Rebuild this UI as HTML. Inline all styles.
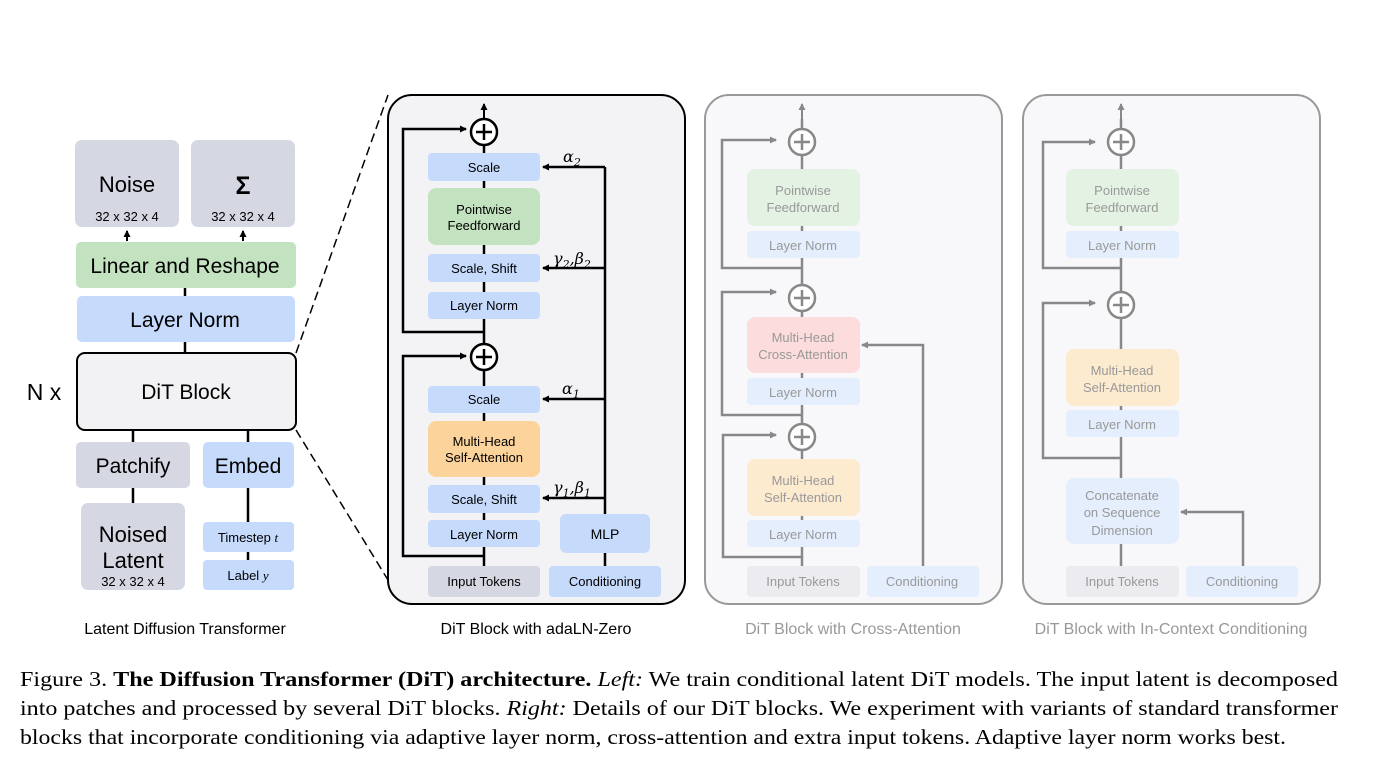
<!DOCTYPE html>
<html><head><meta charset="utf-8"><style>
html,body{margin:0;padding:0;background:#fff;}
svg{display:block;}
.s{font-family:"Liberation Sans",sans-serif;}
.m{font-family:"Liberation Serif",serif;}
</style></head><body>
<svg width="1388" height="764" viewBox="0 0 1388 764" xmlns="http://www.w3.org/2000/svg">
<defs>
<marker id="ab" markerWidth="8" markerHeight="8" refX="6" refY="4" orient="auto" markerUnits="userSpaceOnUse"><path d="M0,0.5 L7,4 L0,7.5 Z" fill="#000"/></marker>
<marker id="ag" markerWidth="8" markerHeight="8" refX="6" refY="4" orient="auto" markerUnits="userSpaceOnUse"><path d="M0,0.5 L7,4 L0,7.5 Z" fill="#888"/></marker>
</defs>

<!-- LEFT -->
<g class="s" text-anchor="middle">
<line x1="185" y1="288" x2="185" y2="353" stroke="#000" stroke-width="2.5"/>
<line x1="133" y1="430" x2="133" y2="503" stroke="#000" stroke-width="2.5"/>
<line x1="248" y1="430" x2="248" y2="560" stroke="#000" stroke-width="2.5"/>
<line x1="127" y1="241" x2="127" y2="231" stroke="#000" stroke-width="2" marker-end="url(#ab)"/>
<line x1="243" y1="241" x2="243" y2="231" stroke="#000" stroke-width="2" marker-end="url(#ab)"/>
<rect x="75" y="140" width="104" height="87" rx="7" fill="#d5d7e2"/>
<rect x="191" y="140" width="104" height="87" rx="7" fill="#d5d7e2"/>
<text x="127" y="192" font-size="22">Noise</text>
<text x="127" y="221" font-size="13">32 x 32 x 4</text>
<text x="243" y="194" font-size="25" font-weight="bold">Σ</text>
<text x="243" y="221" font-size="13">32 x 32 x 4</text>
<rect x="76" y="242" width="220" height="46" rx="5" fill="#c3e3c0"/>
<text x="185" y="273" font-size="21">Linear and Reshape</text>
<rect x="77" y="296" width="218" height="46" rx="5" fill="#c6dafc"/>
<text x="185" y="327" font-size="21">Layer Norm</text>
<rect x="77" y="353" width="219" height="77" rx="8" fill="#f2f2f4" stroke="#000" stroke-width="2"/>
<text x="186" y="399" font-size="21">DiT Block</text>
<text x="44" y="400" font-size="23">N x</text>
<rect x="76" y="442" width="114" height="46" rx="5" fill="#d5d7e2"/>
<text x="133" y="473" font-size="21">Patchify</text>
<rect x="203" y="442" width="91" height="46" rx="5" fill="#c6dafc"/>
<text x="248" y="473" font-size="21">Embed</text>
<rect x="81" y="503" width="104" height="87" rx="7" fill="#d5d7e2"/>
<text x="133" y="542" font-size="22">Noised</text>
<text x="133" y="568" font-size="22">Latent</text>
<text x="133" y="586" font-size="13">32 x 32 x 4</text>
<rect x="203" y="522" width="91" height="30" rx="4" fill="#c6dafc"/>
<text x="248" y="542" font-size="13">Timestep <tspan class="m" font-style="italic">t</tspan></text>
<rect x="203" y="560" width="91" height="30" rx="4" fill="#c6dafc"/>
<text x="248" y="580" font-size="13">Label <tspan class="m" font-style="italic">y</tspan></text>
<text x="185" y="634" font-size="16">Latent Diffusion Transformer</text>
</g>
<line x1="296" y1="353" x2="388" y2="95" stroke="#000" stroke-width="1.5" stroke-dasharray="9,5"/>
<line x1="296" y1="430" x2="388" y2="580" stroke="#000" stroke-width="1.5" stroke-dasharray="9,5"/>

<!-- MIDDLE PANEL -->
<g class="s" text-anchor="middle" font-size="13">
<rect x="388" y="95" width="297" height="509" rx="24" fill="#f3f3f5" stroke="#000" stroke-width="2"/>
<line x1="484" y1="566" x2="484" y2="119" stroke="#000" stroke-width="2.5"/>
<line x1="484" y1="119" x2="484" y2="104" stroke="#000" stroke-width="2" marker-end="url(#ab)"/>
<polyline points="484,332 403,332 403,129 466,129" fill="none" stroke="#000" stroke-width="2.5" marker-end="url(#ab)"/>
<polyline points="484,556 403,556 403,356 466,356" fill="none" stroke="#000" stroke-width="2.5" marker-end="url(#ab)"/>
<line x1="605" y1="566" x2="605" y2="167" stroke="#000" stroke-width="2.5"/>
<polyline points="605,167 543,167" fill="none" stroke="#000" stroke-width="2.5" marker-end="url(#ab)"/>
<polyline points="605,268 543,268" fill="none" stroke="#000" stroke-width="2.5" marker-end="url(#ab)"/>
<polyline points="605,399 543,399" fill="none" stroke="#000" stroke-width="2.5" marker-end="url(#ab)"/>
<polyline points="605,498 543,498" fill="none" stroke="#000" stroke-width="2.5" marker-end="url(#ab)"/>
<circle cx="484" cy="132" r="13" fill="#fff" stroke="#000" stroke-width="2.5"/>
<path d="M476,132 H492 M484,124 V140" stroke="#000" stroke-width="2.5"/>
<circle cx="484" cy="357" r="13" fill="#fff" stroke="#000" stroke-width="2.5"/>
<path d="M476,357 H492 M484,349 V365" stroke="#000" stroke-width="2.5"/>
<rect x="428" y="153" width="112" height="28" rx="4" fill="#c6dafc"/><text x="484" y="172">Scale</text>
<rect x="428" y="188" width="112" height="57" rx="8" fill="#c3e3c0"/><text x="484" y="214">Pointwise</text><text x="484" y="230">Feedforward</text>
<rect x="428" y="254" width="112" height="28" rx="4" fill="#c6dafc"/><text x="484" y="273">Scale, Shift</text>
<rect x="428" y="292" width="112" height="27" rx="4" fill="#c6dafc"/><text x="484" y="310">Layer Norm</text>
<rect x="428" y="386" width="112" height="27" rx="4" fill="#c6dafc"/><text x="484" y="404">Scale</text>
<rect x="428" y="421" width="112" height="56" rx="8" fill="#fcd49b"/><text x="484" y="446">Multi-Head</text><text x="484" y="462">Self-Attention</text>
<rect x="428" y="485" width="112" height="28" rx="4" fill="#c6dafc"/><text x="484" y="504">Scale, Shift</text>
<rect x="428" y="520" width="112" height="27" rx="4" fill="#c6dafc"/><text x="484" y="539">Layer Norm</text>
<rect x="428" y="566" width="112" height="31" rx="4" fill="#d5d7e2"/><text x="484" y="586">Input Tokens</text>
<rect x="549" y="566" width="112" height="31" rx="4" fill="#c6dafc"/><text x="605" y="586">Conditioning</text>
<rect x="560" y="514" width="90" height="39" rx="6" fill="#c6dafc"/><text x="605" y="539" font-size="14">MLP</text>
</g>
<g font-family="DejaVu Serif, serif" font-style="italic" font-size="16" fill="#000">
<text x="563" y="162">α<tspan font-size="11" dy="4">2</tspan></text>
<text x="553" y="264">γ<tspan font-size="11" dy="4">2</tspan><tspan dy="-4">,β</tspan><tspan font-size="11" dy="4">2</tspan></text>
<text x="562" y="394">α<tspan font-size="11" dy="4">1</tspan></text>
<text x="553" y="493">γ<tspan font-size="11" dy="4">1</tspan><tspan dy="-4">,β</tspan><tspan font-size="11" dy="4">1</tspan></text>
</g>
<text class="s" x="536" y="634" font-size="16" text-anchor="middle">DiT Block with adaLN-Zero</text>

<!-- PANEL 3 -->
<g class="s" text-anchor="middle" font-size="13" fill="#999">
<rect x="705" y="95" width="297" height="509" rx="24" fill="#f8f8fa" stroke="#999" stroke-width="2"/>
<line x1="802" y1="566" x2="802" y2="119" stroke="#888" stroke-width="2.5"/>
<line x1="802" y1="119" x2="802" y2="104" stroke="#888" stroke-width="2" marker-end="url(#ag)"/>
<polyline points="802,268 722,268 722,140 776,140" fill="none" stroke="#888" stroke-width="2.5" marker-end="url(#ag)"/>
<polyline points="802,415 722,415 722,292 776,292" fill="none" stroke="#888" stroke-width="2.5" marker-end="url(#ag)"/>
<polyline points="802,557 723,557 723,435 776,435" fill="none" stroke="#888" stroke-width="2.5" marker-end="url(#ag)"/>
<polyline points="923,566 923,345 862,345" fill="none" stroke="#888" stroke-width="2.5" marker-end="url(#ag)"/>
<circle cx="802" cy="142" r="13" fill="#fff" stroke="#888" stroke-width="2.5"/><path d="M794,142 H810 M802,134 V150" stroke="#888" stroke-width="2.5"/>
<circle cx="802" cy="298" r="13" fill="#fff" stroke="#888" stroke-width="2.5"/><path d="M794,298 H810 M802,290 V306" stroke="#888" stroke-width="2.5"/>
<circle cx="802" cy="437" r="13" fill="#fff" stroke="#888" stroke-width="2.5"/><path d="M794,437 H810 M802,429 V445" stroke="#888" stroke-width="2.5"/>
<rect x="747" y="169" width="113" height="57" rx="8" fill="#e3f2e2"/><text x="803" y="195">Pointwise</text><text x="803" y="212">Feedforward</text>
<rect x="747" y="231" width="113" height="27" rx="4" fill="#e4eefd"/><text x="803" y="250">Layer Norm</text>
<rect x="747" y="317" width="113" height="56" rx="8" fill="#fcdcdc"/><text x="803" y="342">Multi-Head</text><text x="803" y="359">Cross-Attention</text>
<rect x="747" y="378" width="113" height="27" rx="4" fill="#e4eefd"/><text x="803" y="397">Layer Norm</text>
<rect x="747" y="459" width="113" height="57" rx="8" fill="#fdebd0"/><text x="803" y="485">Multi-Head</text><text x="803" y="502">Self-Attention</text>
<rect x="747" y="520" width="113" height="27" rx="4" fill="#e4eefd"/><text x="803" y="539">Layer Norm</text>
<rect x="747" y="566" width="113" height="31" rx="4" fill="#ececf0"/><text x="803" y="586">Input Tokens</text>
<rect x="867" y="566" width="112" height="31" rx="4" fill="#e4eefd"/><text x="922" y="586">Conditioning</text>
<text x="853" y="634" font-size="16">DiT Block with Cross-Attention</text>
</g>

<!-- PANEL 4 -->
<g class="s" text-anchor="middle" font-size="13" fill="#999">
<rect x="1023" y="95" width="297" height="509" rx="24" fill="#f8f8fa" stroke="#999" stroke-width="2"/>
<line x1="1121" y1="566" x2="1121" y2="119" stroke="#888" stroke-width="2.5"/>
<line x1="1121" y1="119" x2="1121" y2="104" stroke="#888" stroke-width="2" marker-end="url(#ag)"/>
<polyline points="1121,268 1043,268 1043,142 1095,142" fill="none" stroke="#888" stroke-width="2.5" marker-end="url(#ag)"/>
<polyline points="1121,458 1043,458 1043,303 1095,303" fill="none" stroke="#888" stroke-width="2.5" marker-end="url(#ag)"/>
<polyline points="1243,566 1243,512 1181,512" fill="none" stroke="#888" stroke-width="2.5" marker-end="url(#ag)"/>
<circle cx="1121" cy="142" r="13" fill="#fff" stroke="#888" stroke-width="2.5"/><path d="M1113,142 H1129 M1121,134 V150" stroke="#888" stroke-width="2.5"/>
<circle cx="1121" cy="305" r="13" fill="#fff" stroke="#888" stroke-width="2.5"/><path d="M1113,305 H1129 M1121,297 V313" stroke="#888" stroke-width="2.5"/>
<rect x="1066" y="169" width="113" height="57" rx="8" fill="#e3f2e2"/><text x="1122" y="195">Pointwise</text><text x="1122" y="212">Feedforward</text>
<rect x="1066" y="231" width="113" height="27" rx="4" fill="#e4eefd"/><text x="1122" y="250">Layer Norm</text>
<rect x="1066" y="349" width="113" height="57" rx="8" fill="#fdebd0"/><text x="1122" y="375">Multi-Head</text><text x="1122" y="392">Self-Attention</text>
<rect x="1066" y="410" width="113" height="27" rx="4" fill="#e4eefd"/><text x="1122" y="429">Layer Norm</text>
<rect x="1066" y="478" width="113" height="66" rx="8" fill="#e4eefd"/><text x="1122" y="500">Concatenate</text><text x="1122" y="517">on Sequence</text><text x="1122" y="535">Dimension</text>
<rect x="1066" y="566" width="113" height="31" rx="4" fill="#ececf0"/><text x="1122" y="586">Input Tokens</text>
<rect x="1186" y="566" width="112" height="31" rx="4" fill="#e4eefd"/><text x="1242" y="586">Conditioning</text>
<text x="1171" y="634" font-size="16">DiT Block with In-Context Conditioning</text>
</g>

<!-- CAPTION -->
<g class="m" font-size="21" fill="#000">
<text x="20" y="686" textLength="1318" lengthAdjust="spacingAndGlyphs">Figure 3. <tspan font-weight="bold">The Diffusion Transformer (DiT) architecture.</tspan> <tspan font-style="italic">Left:</tspan> We train conditional latent DiT models. The input latent is decomposed</text>
<text x="20" y="715" textLength="1318" lengthAdjust="spacingAndGlyphs">into patches and processed by several DiT blocks. <tspan font-style="italic">Right:</tspan> Details of our DiT blocks. We experiment with variants of standard transformer</text>
<text x="20" y="744" textLength="1266" lengthAdjust="spacingAndGlyphs">blocks that incorporate conditioning via adaptive layer norm, cross-attention and extra input tokens. Adaptive layer norm works best.</text>
</g>
</svg>
</body></html>
